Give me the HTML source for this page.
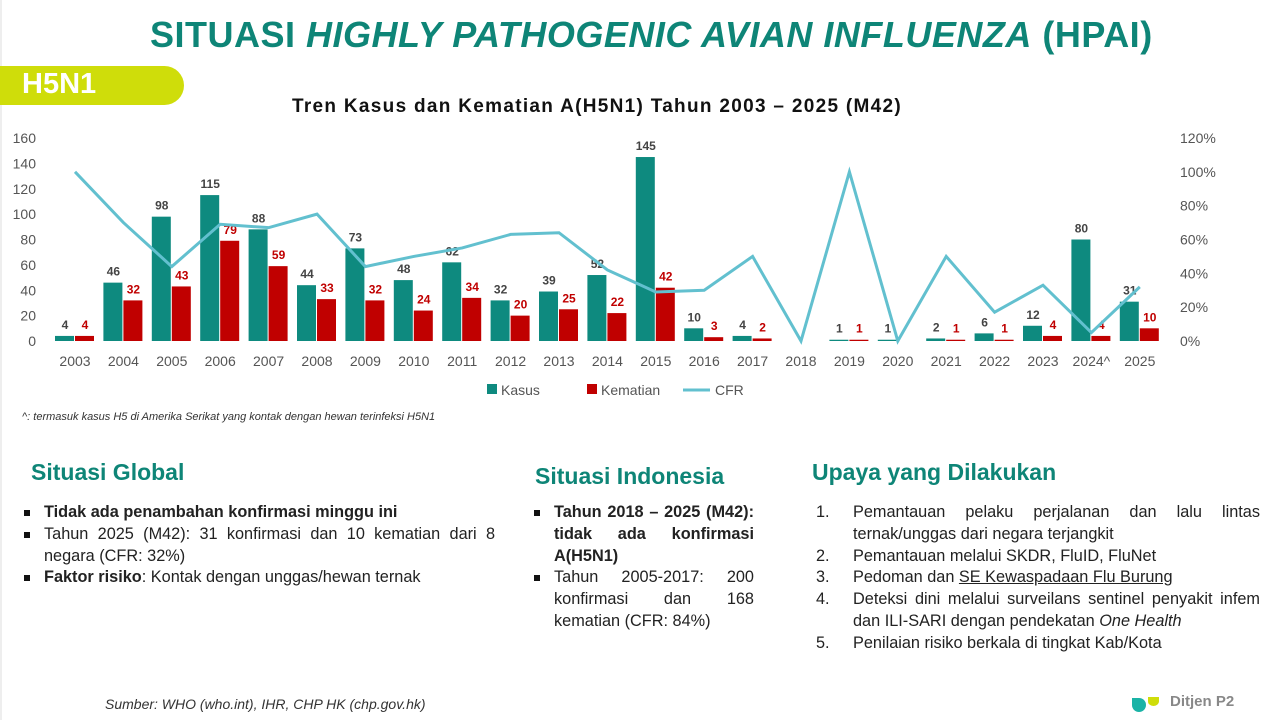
<!DOCTYPE html>
<html><head><meta charset="utf-8">
<style>
body{margin:0;width:1280px;height:720px;background:#fff;position:relative;overflow:hidden;font-family:"Liberation Sans",sans-serif;}
.abs{position:absolute}
h2{margin:0;font-weight:bold;color:#0e8577;font-size:23px;position:absolute}
ul,ol{margin:0;padding:0;list-style:none}
.blk{position:absolute;font-size:16.3px;line-height:21.8px;color:#222}
.blk li{position:relative;padding-left:24px;text-align:justify}
.sq li:before{content:"";position:absolute;left:4px;top:8px;width:6px;height:6px;background:#111}
.num li span.n{position:absolute;left:4px}
</style></head><body>
<div class="abs" style="left:0;top:0;width:2px;height:720px;background:#eee"></div>
<div class="abs" style="left:150px;top:14px;font-size:36px;font-weight:bold;color:#0e8577;letter-spacing:0.5px;white-space:nowrap">SITUASI <i>HIGHLY PATHOGENIC AVIAN INFLUENZA</i> (HPAI)</div>
<div class="abs" style="left:0;top:66px;width:184px;height:39px;background:#cfdd0a;border-radius:0 20px 20px 0"></div>
<div class="abs" style="left:22px;top:68px;font-size:29px;font-weight:bold;color:#fff">H5N1</div>
<div class="abs" style="left:292px;top:96px;font-size:19px;font-weight:bold;color:#111;letter-spacing:1.3px;white-space:nowrap">Tren Kasus dan Kematian A(H5N1) Tahun 2003 – 2025 (M42)</div>
<svg id="ch" class="abs" style="left:0;top:0" width="1280" height="430" font-family="Liberation Sans"></svg>
<div class="abs" style="left:22px;top:411px;font-size:11px;font-style:italic;color:#333">^: termasuk kasus H5 di Amerika Serikat yang kontak dengan hewan terinfeksi H5N1</div>

<h2 style="left:31px;top:459px">Situasi Global</h2>
<ul class="blk sq" style="left:20px;top:502px;width:475px">
<li><b>Tidak ada penambahan konfirmasi minggu ini</b></li>
<li>Tahun 2025 (M42): 31 konfirmasi dan 10 kematian dari 8 negara (CFR: 32%)</li>
<li><b>Faktor risiko</b>: Kontak dengan unggas/hewan ternak</li>
</ul>
<h2 style="left:535px;top:463px">Situasi Indonesia</h2>
<ul class="blk sq" style="left:530px;top:502px;width:224px">
<li><b>Tahun 2018 – 2025 (M42): tidak ada konfirmasi A(H5N1)</b></li>
<li>Tahun 2005-2017: 200 konfirmasi dan 168 kematian (CFR: 84%)</li>
</ul>
<h2 style="left:812px;top:459px">Upaya yang Dilakukan</h2>
<ol class="blk num" style="left:812px;top:502px;width:448px">
<li style="padding-left:41px"><span class="n">1.</span>Pemantauan pelaku perjalanan dan lalu lintas ternak/unggas dari negara terjangkit</li>
<li style="padding-left:41px"><span class="n">2.</span>Pemantauan melalui SKDR, FluID, FluNet</li>
<li style="padding-left:41px"><span class="n">3.</span>Pedoman dan <u>SE Kewaspadaan Flu Burung</u></li>
<li style="padding-left:41px"><span class="n">4.</span>Deteksi dini melalui surveilans sentinel penyakit infem dan ILI-SARI dengan pendekatan <i>One Health</i></li>
<li style="padding-left:41px"><span class="n">5.</span>Penilaian risiko berkala di tingkat Kab/Kota</li>
</ol>
<div class="abs" style="left:105px;top:696px;font-size:14px;font-style:italic;color:#333">Sumber: WHO (who.int), IHR, CHP HK (chp.gov.hk)</div>
<div class="abs" style="left:1132px;top:698px;width:14px;height:14px;border-radius:0 50% 50% 50%;background:#1ab3a6"></div>
<div class="abs" style="left:1148px;top:697px;width:11px;height:9px;border-radius:0 0 50% 50%;background:#cfdd0a"></div>
<div class="abs" style="left:1170px;top:693px;font-size:15px;font-weight:bold;color:#888">Ditjen P2</div>
<script>
var K=[4,46,98,115,88,44,73,48,62,32,39,52,145,10,4,0,1,1,2,6,12,80,31];
var D=[4,32,43,79,59,33,32,24,34,20,25,22,42,3,2,0,1,0,1,1,4,4,10];
var C=[100,70,44,69,67,75,44,50,55,63,64,42,29,30,50,0,100,0,50,17,33,5,32];
var s='',B=341,u=203/160;
for(var v=0;v<=160;v+=20){var y=B-v*u;s+='<text x="36" y="'+(y+5)+'" font-size="14" fill="#555" text-anchor="end">'+v+'</text>';}
for(var p=0;p<=120;p+=20){var y=B-p*203/120;s+='<text x="1180" y="'+(y+5)+'" font-size="14" fill="#555">'+p+'%</text>';}
var pts=[];
for(var i=0;i<23;i++){var cx=75+48.4*i;
 var hk=K[i]*u,hd=D[i]*u;
 if(K[i])s+='<rect x="'+(cx-20)+'" y="'+(B-hk)+'" width="19" height="'+hk+'" fill="#0e8a7f"/>';
 if(D[i])s+='<rect x="'+cx+'" y="'+(B-hd)+'" width="19" height="'+hd+'" fill="#c00000"/>';
 if(K[i])s+='<text x="'+(cx-10)+'" y="'+(B-hk-7)+'" font-size="12" font-weight="bold" fill="#444" text-anchor="middle">'+K[i]+'</text>';
 if(D[i])s+='<text x="'+(cx+10)+'" y="'+(B-hd-7)+'" font-size="12" font-weight="bold" fill="#c00000" text-anchor="middle">'+D[i]+'</text>';
 s+='<text x="'+cx+'" y="366" font-size="14" fill="#555" text-anchor="middle">'+(2003+i)+(i==21?'^':'')+'</text>';
 pts.push(cx+','+(B-C[i]*203/120));}
s+='<polyline points="'+pts.join(' ')+'" fill="none" stroke="#62c0cf" stroke-width="3"/>';
s+='<rect x="487" y="384" width="10" height="10" fill="#0e8a7f"/><text x="501" y="395" font-size="14" fill="#555">Kasus</text>';
s+='<rect x="587" y="384" width="10" height="10" fill="#c00000"/><text x="601" y="395" font-size="14" fill="#555">Kematian</text>';
s+='<line x1="683" y1="390" x2="710" y2="390" stroke="#62c0cf" stroke-width="3"/><text x="715" y="395" font-size="14" fill="#555">CFR</text>';
document.getElementById('ch').innerHTML=s;
</script>
</body></html>
